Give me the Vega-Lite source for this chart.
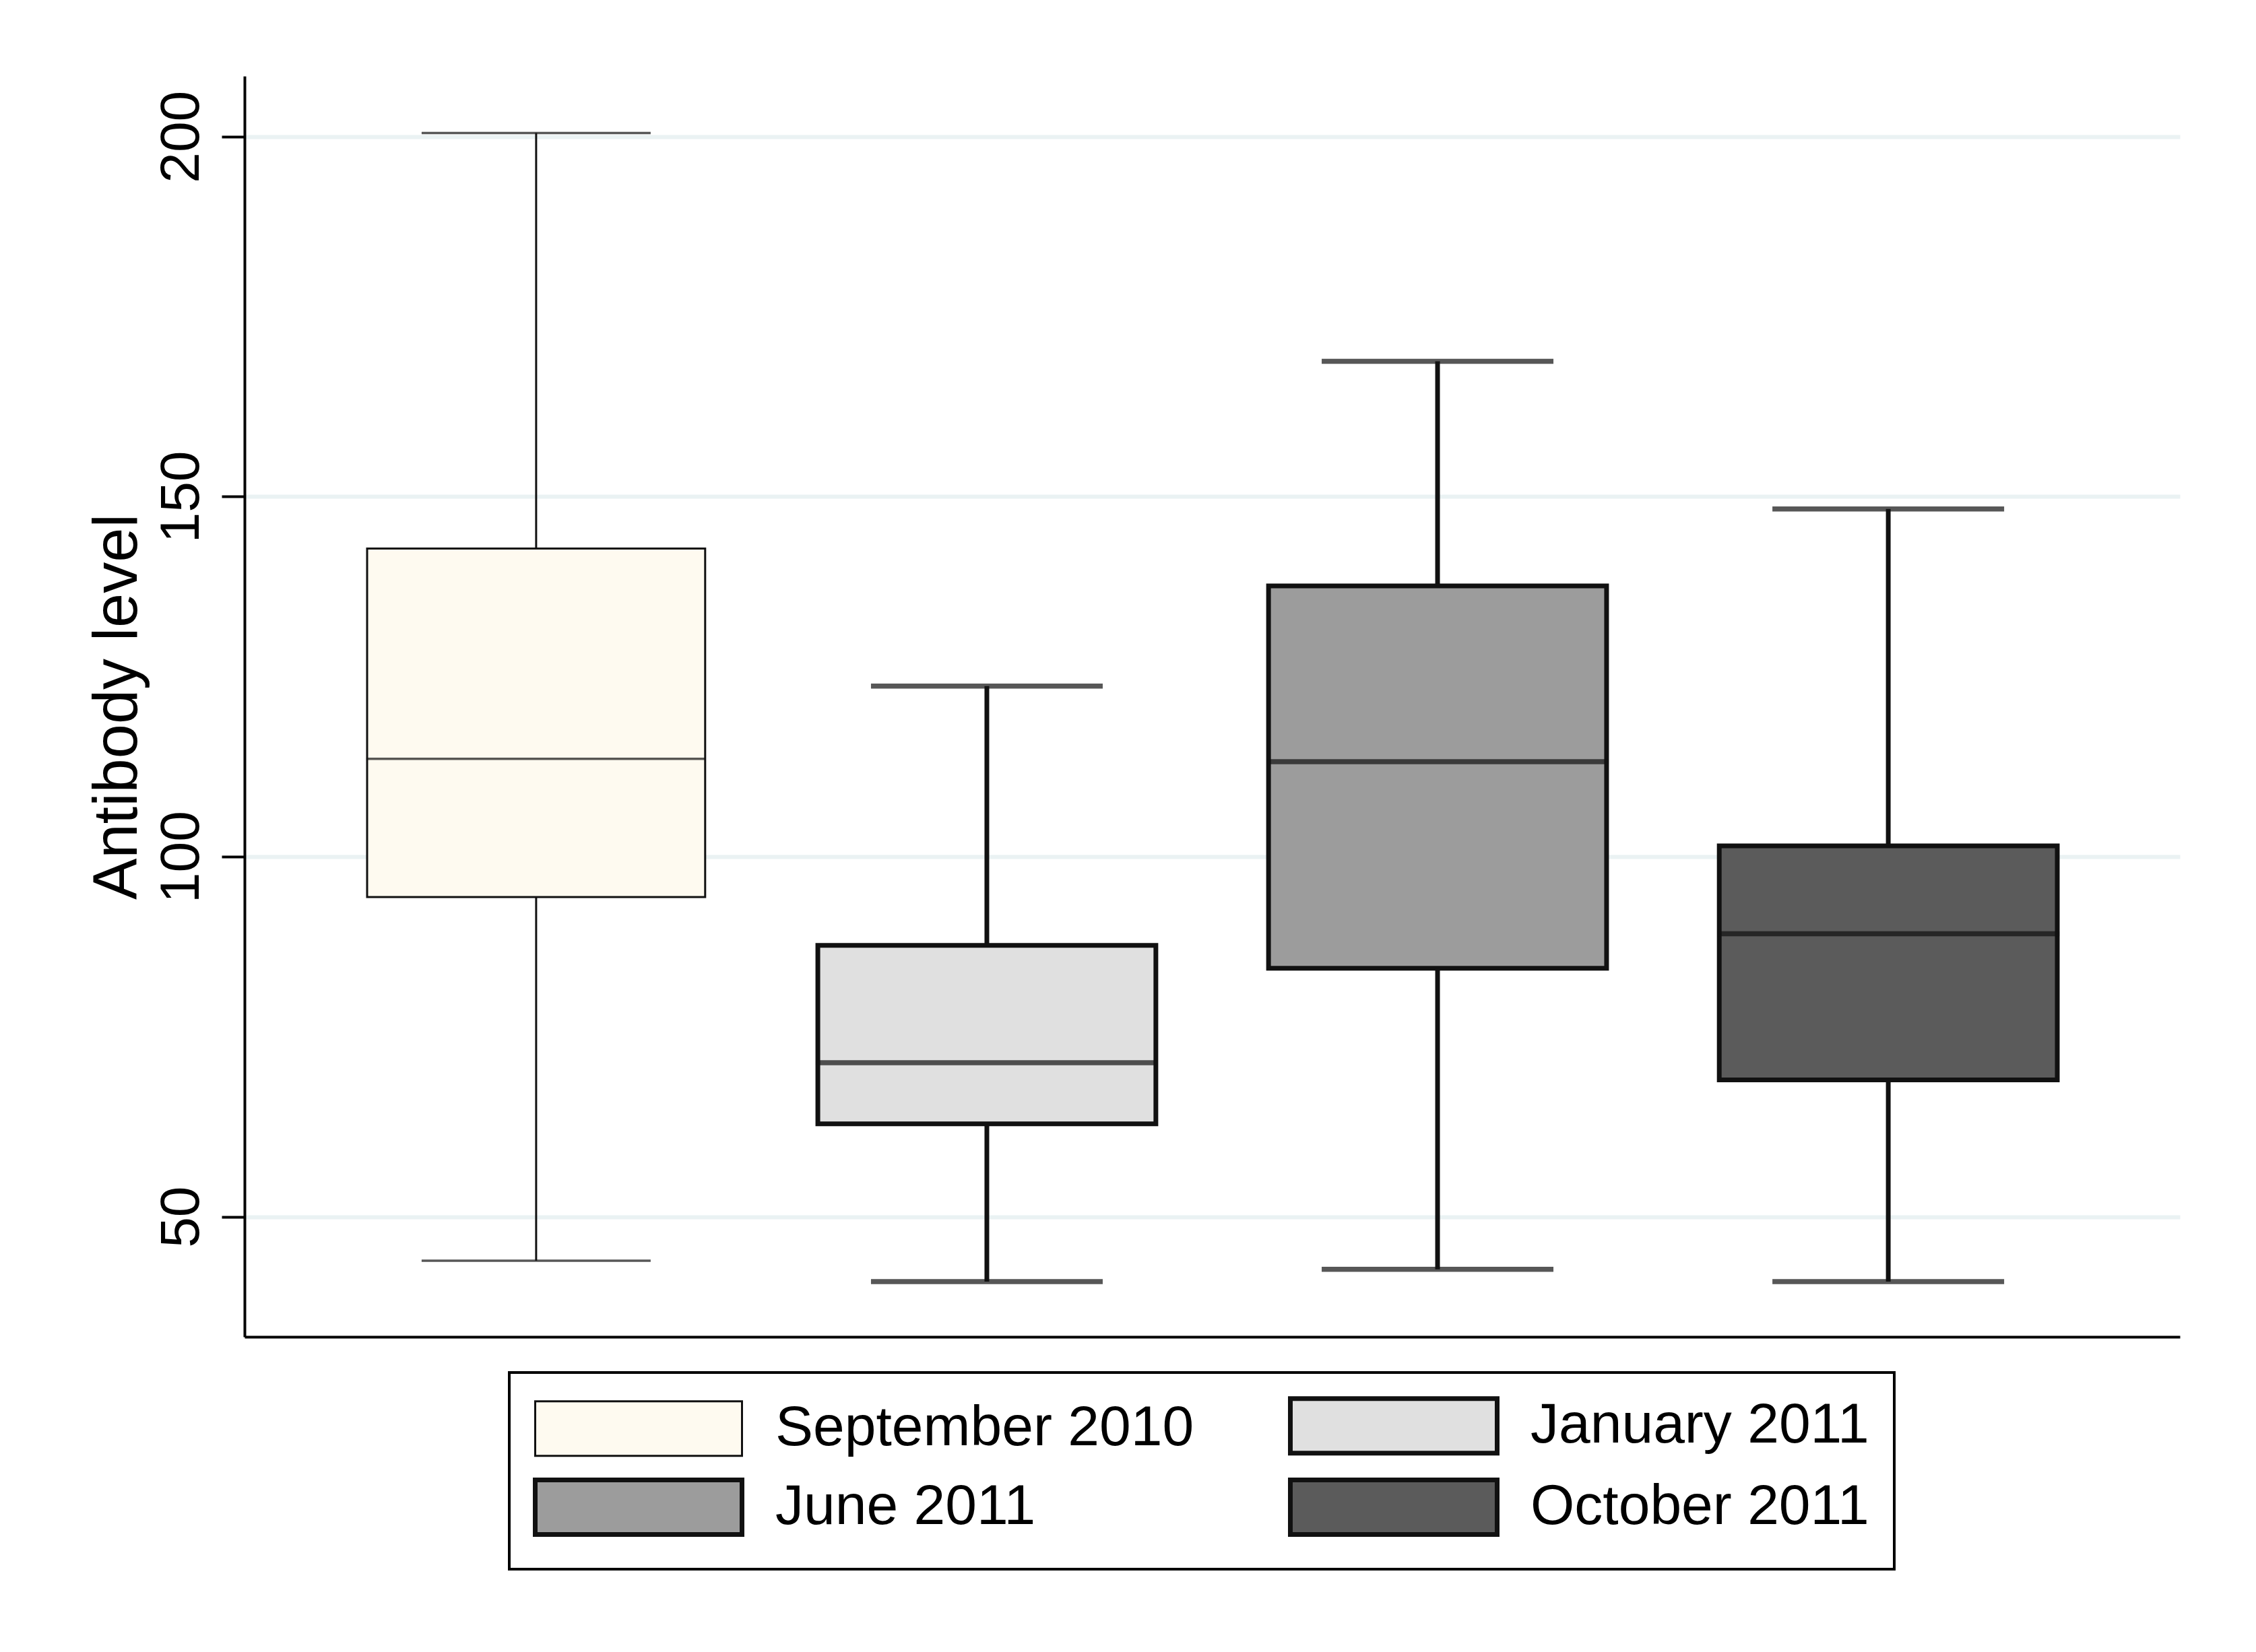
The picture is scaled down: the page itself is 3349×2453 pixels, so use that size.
{
  "$schema": "https://vega.github.io/schema/vega-lite/v6.json",
  "width": 2873,
  "height": 1872,
  "autosize": {"type": "none"},
  "padding": {"left": 363, "top": 113, "right": 113, "bottom": 468},
  "background": "white",
  "data": {
    "values": [
      {"period": "September 2010", "lower": 43.9, "q1": 94.4, "median": 113.6, "q3": 142.8, "upper": 200.5},
      {"period": "January 2011", "lower": 41.0, "q1": 62.9, "median": 71.4, "q3": 87.7, "upper": 123.7},
      {"period": "June 2011", "lower": 42.7, "q1": 84.5, "median": 113.2, "q3": 137.6, "upper": 168.8},
      {"period": "October 2011", "lower": 41.0, "q1": 69.0, "median": 89.3, "q3": 101.5, "upper": 148.3}
    ]
  },
  "layer": [
    {
      "mark": {"type": "rule", "color": "#111111"},
      "encoding": {
        "x": {
          "field": "period", "type": "nominal", "sort": null,
          "scale": {"paddingInner": 0.25, "paddingOuter": 0.272},
          "axis": {"labels": false, "ticks": false, "title": null, "domain": true, "grid": false}
        },
        "y": {
          "field": "lower", "type": "quantitative", "title": "Antibody level",
          "scale": {"domain": [33.33, 208.4], "nice": false, "zero": false},
          "axis": {"values": [50, 100, 150, 200]}
        },
        "y2": {"field": "upper"},
        "strokeWidth": {"condition": {"test": "datum.period === 'September 2010'", "value": 3}, "value": 7}
      }
    },
    {
      "mark": {"type": "bar", "stroke": "#111111"},
      "encoding": {
        "x": {"field": "period", "type": "nominal", "sort": null, "title": null},
        "y": {"field": "q1", "type": "quantitative", "title": "Antibody level"},
        "y2": {"field": "q3"},
        "fill": {
          "field": "period", "type": "nominal", "sort": null,
          "scale": {"domain": ["September 2010", "January 2011", "June 2011", "October 2011"], "range": ["#FEFAF0", "#E0E0E0", "#9C9C9C", "#5B5B5B"]},
          "legend": {
            "encode": {
              "symbols": {
                "update": {
                  "stroke": {"value": "#111111"},
                  "strokeOpacity": {"value": 1},
                  "opacity": {"value": 1},
                  "strokeWidth": {"signal": "datum.value === 'September 2010' ? 3 : 7"}
                }
              }
            }
          }
        },
        "strokeWidth": {"condition": {"test": "datum.period === 'September 2010'", "value": 3}, "value": 7}
      }
    },
    {
      "mark": {"type": "tick", "fill": "#111111", "stroke": "#111111", "thickness": 0.5, "size": 501},
      "encoding": {
        "x": {"field": "period", "type": "nominal", "sort": null, "title": null},
        "y": {"field": "median", "type": "quantitative", "title": "Antibody level"},
        "strokeWidth": {"condition": {"test": "datum.period === 'September 2010'", "value": 3}, "value": 7}
      }
    },
    {
      "mark": {"type": "tick", "fill": "#111111", "stroke": "#111111", "thickness": 0.5, "size": 337},
      "encoding": {
        "x": {"field": "period", "type": "nominal", "sort": null, "title": null},
        "y": {"field": "lower", "type": "quantitative", "title": "Antibody level"},
        "strokeWidth": {"condition": {"test": "datum.period === 'September 2010'", "value": 3}, "value": 7}
      }
    },
    {
      "mark": {"type": "tick", "fill": "#111111", "stroke": "#111111", "thickness": 0.5, "size": 337},
      "encoding": {
        "x": {"field": "period", "type": "nominal", "sort": null, "title": null},
        "y": {"field": "upper", "type": "quantitative", "title": "Antibody level"},
        "strokeWidth": {"condition": {"test": "datum.period === 'September 2010'", "value": 3}, "value": 7}
      }
    }
  ],
  "config": {
    "font": "Liberation Sans",
    "view": {"stroke": null},
    "axis": {
      "domainColor": "#000000",
      "domainWidth": 4,
      "tickColor": "#000000",
      "tickWidth": 4,
      "labelColor": "#000000",
      "titleColor": "#000000"
    },
    "axisX": {"grid": false},
    "axisY": {
      "grid": true,
      "gridColor": "#EAF2F3",
      "gridWidth": 6,
      "tickSize": 34,
      "labelFontSize": 82,
      "labelAngle": 270,
      "labelAlign": "center",
      "labelBaseline": "alphabetic",
      "labelPadding": 35,
      "titleFontSize": 92,
      "titleFontWeight": "normal",
      "titleAngle": 270,
      "titleAlign": "center",
      "titleBaseline": "alphabetic",
      "titleX": -161,
      "titleY": 936
    },
    "legend": {
      "title": null,
      "orient": "none",
      "legendX": 393,
      "legendY": 1925,
      "columns": 2,
      "direction": "horizontal",
      "padding": 37,
      "strokeColor": "#000000",
      "strokeWidth": 4,
      "fillColor": "white",
      "symbolType": "M-1,-1H6.58V1H-1Z",
      "symbolSize": 6561,
      "symbolStrokeColor": "#111111",
      "symbolOpacity": 1,
      "labelFontSize": 84,
      "labelColor": "#000000",
      "labelOffset": 274,
      "labelLimit": 2000,
      "columnPadding": 128,
      "rowPadding": 11
    }
  }
}
